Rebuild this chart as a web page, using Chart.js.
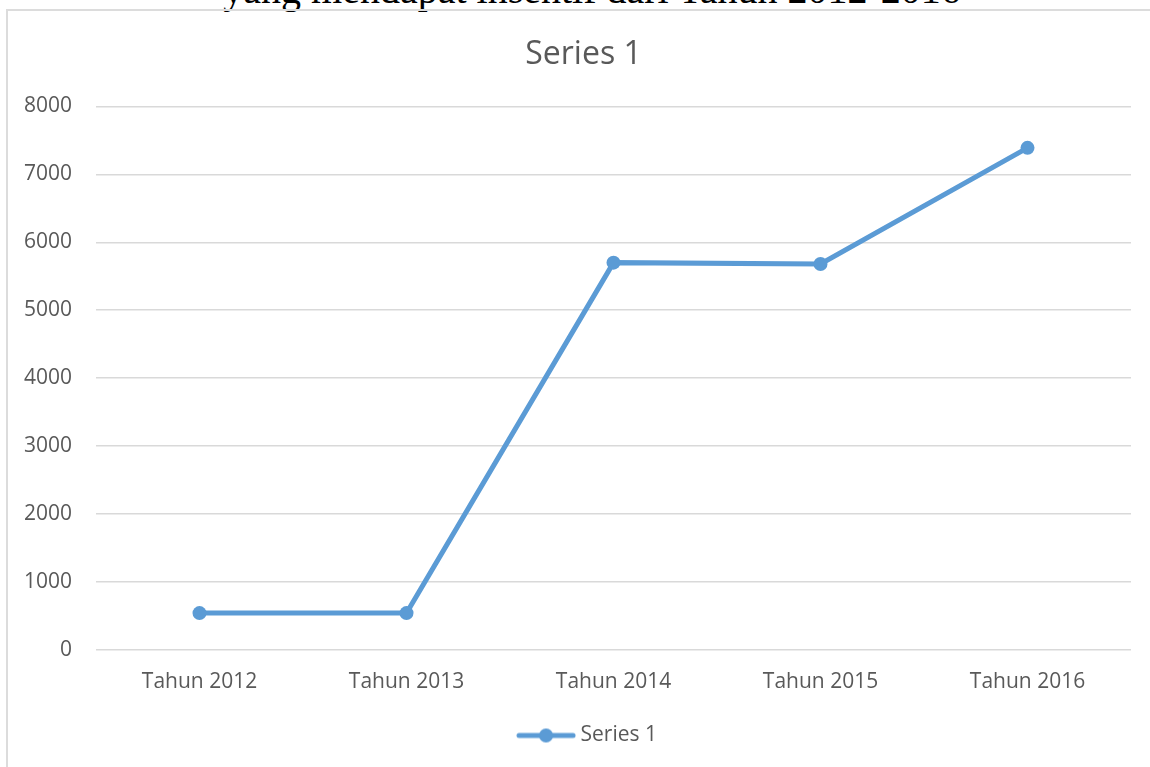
<!DOCTYPE html>
<html>
<head>
<meta charset="utf-8">
<script src="https://cdn.jsdelivr.net/npm/chart.js@4/dist/chart.umd.min.js"></script>
<style>
  html, body { margin: 0; padding: 0; background: #fff; overflow: hidden; }
  #wrap { position: relative; width: 1150px; height: 767px; overflow: hidden; }
  #frame { position: absolute; left: 6px; top: 9px; width: 1200px; height: 800px; border: 2px solid #dcdcdc; box-sizing: border-box; }
  #heading { position: absolute; left: 0; width: 1184px; top: -30px; text-align: center; font-family: "Liberation Serif", "Times New Roman", serif; font-size: 40px; line-height: 40px; color: #000; white-space: nowrap; }
  #holder { position: absolute; left: 0; top: 0; width: 1150px; height: 767px; }
</style>
</head>
<body>
<div id="wrap">
  <div id="heading">yang mendapat insentif dari Tahun 2012-2016</div>
  <div id="frame"></div>
  <div id="holder"><canvas id="c"></canvas></div>
</div>
<script>
const categories = ["Tahun 2012", "Tahun 2013", "Tahun 2014", "Tahun 2015", "Tahun 2016"];
const seriesName = "Series 1";
const seriesValues = [540, 540, 5700, 5680, 7390];
const yTicks = [0, 1000, 2000, 3000, 4000, 5000, 6000, 7000, 8000];

const blue = "#5b9bd5";
const textColor = "#595959";
const gridColor = "#d9d9d9";

// legend marker: line with a circle
const marker = document.createElement("canvas");
marker.width = 60; marker.height = 16;
(function () {
  const g = marker.getContext("2d");
  g.strokeStyle = blue; g.lineWidth = 5; g.lineCap = "round";
  g.beginPath(); g.moveTo(3, 8); g.lineTo(57, 8); g.stroke();
  g.fillStyle = blue; g.beginPath(); g.arc(30, 8, 7, 0, Math.PI * 2); g.fill();
})();

// centre the title and legend on the chart frame rather than on the plot
const centreShift = {
  id: "centreShift",
  afterLayout(chart) {
    const lg = chart.legend;
    if (lg) { lg.left += 24; lg.right += 24; }
    const tb = chart.titleBlock;
    if (tb) { tb.left += 18; tb.right += 18; }
  }
};

new Chart(document.getElementById("c"), {
  type: "line",
  data: {
    labels: categories,
    datasets: [{
      label: seriesName,
      data: seriesValues,
      borderColor: blue,
      backgroundColor: blue,
      borderWidth: 5,
      pointRadius: 7,
      pointHoverRadius: 7,
      pointBackgroundColor: blue,
      pointBorderWidth: 0,
      tension: 0,
      fill: false,
      pointStyle: "circle"
    }]
  },
  plugins: [centreShift],
  options: {
    responsive: true,
    maintainAspectRatio: false,
    animation: false,
    devicePixelRatio: 1,
    layout: { padding: { left: 0, right: 19, top: 0, bottom: 11 } },
    plugins: {
      tooltip: { enabled: false },
      title: {
        display: true,
        text: seriesName,
        color: textColor,
        font: { family: "'Open Sans', sans-serif", size: 32, weight: "normal" },
        padding: { top: 36, bottom: 32 }
      },
      legend: {
        display: true,
        position: "bottom",
        labels: {
          color: textColor,
          font: { family: "'Open Sans', sans-serif", size: 21 },
          usePointStyle: true,
          pointStyleWidth: 48,
          padding: 10,
          generateLabels: (chart) => [{
            text: seriesName,
            pointStyle: marker,
            fillStyle: blue,
            strokeStyle: blue,
            lineWidth: 0,
            datasetIndex: 0,
            hidden: false,
            fontColor: textColor
          }]
        }
      }
    },
    scales: {
      x: {
        offset: true,
        grid: { display: false, drawTicks: false },
        border: { display: false },
        ticks: {
          color: textColor,
          font: { family: "'Open Sans', sans-serif", size: 21 },
          padding: 20,
          maxRotation: 0
        }
      },
      y: {
        min: 0,
        max: 8000,
        afterBuildTicks: (axis) => { axis.ticks = yTicks.map(v => ({ value: v })); },
        grid: { color: gridColor, lineWidth: 1.5, drawTicks: false },
        border: { display: false },
        ticks: {
          color: textColor,
          font: { family: "'Open Sans', sans-serif", size: 21 },
          padding: 24,
          callback: (v) => String(v)
        }
      }
    }
  }
});
</script>
</body>
</html>
